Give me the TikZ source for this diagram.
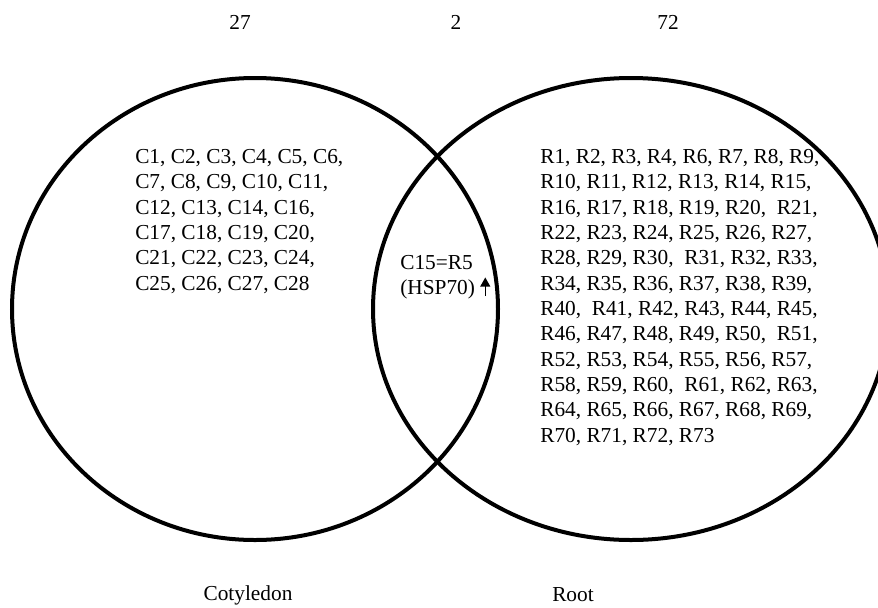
\documentclass[tikz,border=0pt]{standalone}
\usepackage{fontspec}
\setmainfont{Liberation Serif}
\usetikzlibrary{arrows.meta}

% flecha hacia arriba dentro del texto
\newcommand{\upmark}{\hspace{4pt}\tikz[baseline=0pt]\draw[line width=1.1pt,-{Triangle[width=7.5pt,length=7pt]}] (0,-1pt) -- (0,13pt);}

\begin{document}
\begin{tikzpicture}[
    x=0.75pt, y=-0.75pt,
    set/.style={draw=black, line width=3pt},
    lista/.style={align=left, inner sep=0pt, font=\fontsize{16}{19}\selectfont},
    etiqueta/.style={inner sep=0pt, font=\fontsize{16}{19}\selectfont}
]
\useasboundingbox (0,0) rectangle (878,607);

% Conjuntos (elipses)
\draw[set] (255,309) ellipse [x radius=243, y radius=231];
\draw[set] (631,309) ellipse [x radius=258, y radius=231];

% Numeros de arriba
\node[etiqueta] (nc) at (240,22) {27};
\node[etiqueta] (ni) at (456,22) {2};
\node[etiqueta] (nr) at (668,22) {72};

% Listas
\node[lista, anchor=north west] (lc) at (135,149) {
    C1, C2, C3, C4, C5, C6,\\
    C7, C8, C9, C10, C11,\\
    C12, C13, C14, C16,\\
    C17, C18, C19, C20,\\
    C21, C22, C23, C24,\\
    C25, C26, C27, C28
};

\node[lista, anchor=north west] (li) at (400,255) {
    C15=R5\\
    (HSP70)\upmark
};

\node[lista, anchor=north west] (lr) at (540,149) {
    R1, R2, R3, R4, R6, R7, R8, R9,\\
    R10, R11, R12, R13, R14, R15,\\
    R16, R17, R18, R19, R20, \ R21,\\
    R22, R23, R24, R25, R26, R27,\\
    R28, R29, R30, \ R31, R32, R33,\\
    R34, R35, R36, R37, R38, R39,\\
    R40, \ R41, R42, R43, R44, R45,\\
    R46, R47, R48, R49, R50, \ R51,\\
    R52, R53, R54, R55, R56, R57,\\
    R58, R59, R60, \ R61, R62, R63,\\
    R64, R65, R66, R67, R68, R69,\\
    R70, R71, R72, R73
};

% Nombres de abajo
\node[etiqueta] (tc) at (248,595) {Cotyledon};
\node[etiqueta] (tr) at (573,595) {Root};

\end{tikzpicture}
\end{document}
